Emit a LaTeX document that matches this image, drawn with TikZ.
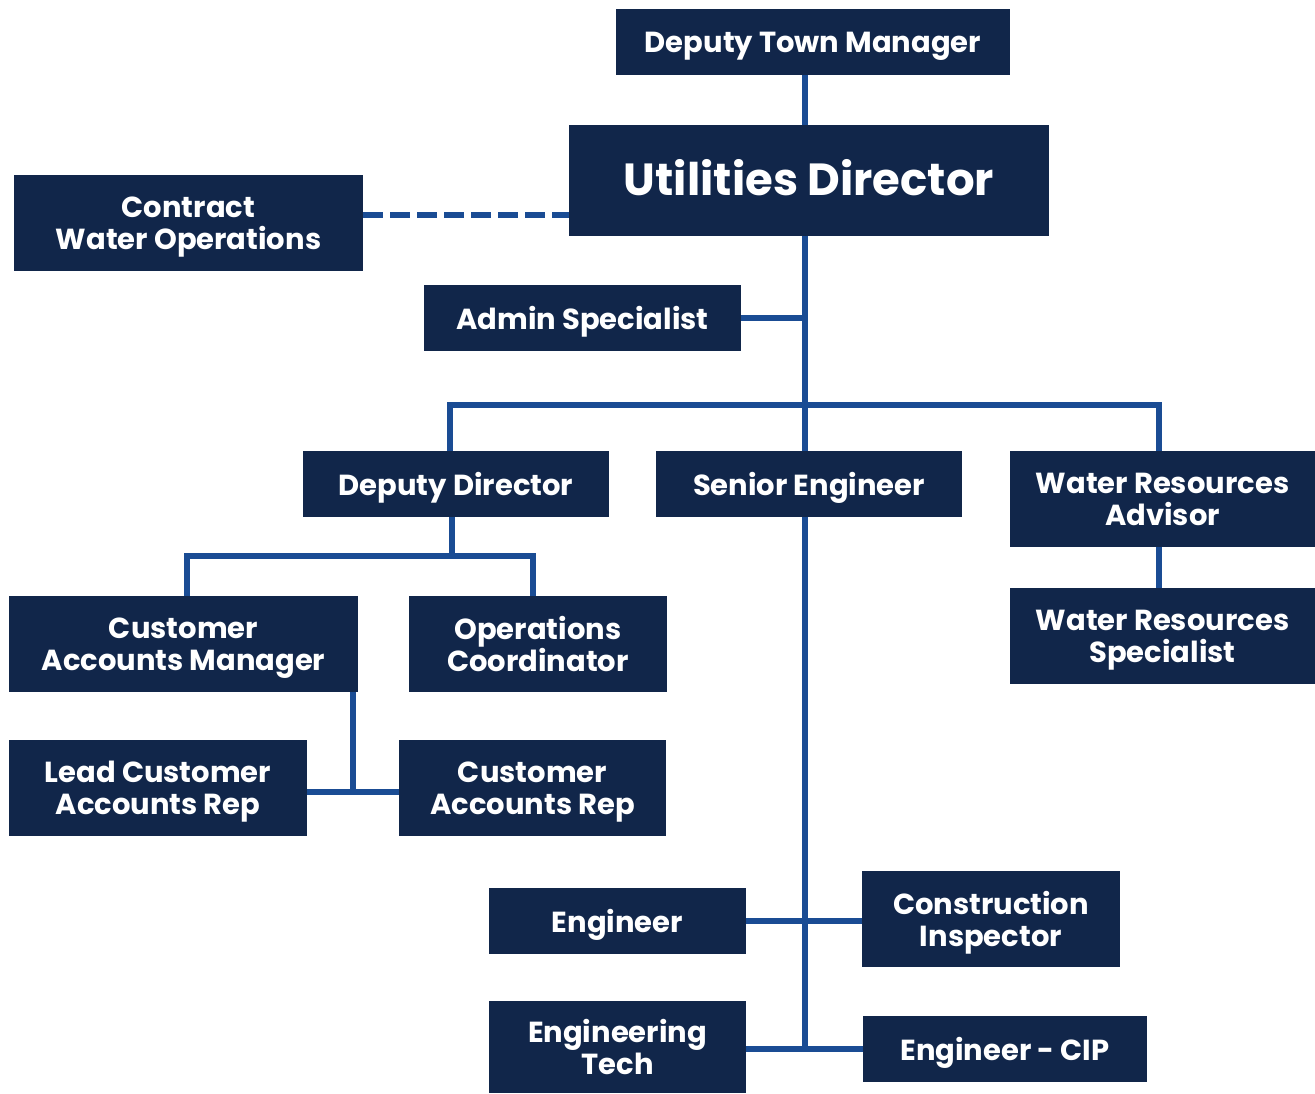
\documentclass[tikz,border=0pt]{standalone}
\usepackage{fontspec}
\setmainfont{Poppins}
\usepackage{xcolor}
\usepackage{tikz}

\definecolor{navy}{HTML}{11264A}
\definecolor{linkblue}{HTML}{1A4C94}

\begin{document}
\begin{tikzpicture}[x=1pt, y=-1pt,
	box/.style={draw=none, fill=navy, text=white, align=center, inner sep=0pt, text depth=0pt,
		font=\fontsize{29}{32}\selectfont\bfseries},
	link/.style={draw=linkblue, line width=6.5pt},
	dashlink/.style={link, dash pattern=on 20pt off 7pt}]
	\useasboundingbox (0,0) rectangle (1315,1093);
	
	\node[box, minimum width=394pt, minimum height=66pt] (DTM) at (813, 42) {Deputy Town Manager};
	\node[box, minimum width=480pt, minimum height=111pt, text depth=6pt, font=\fontsize{45}{50}\selectfont\bfseries] (UD) at (809, 180.5) {Utilities Director};
	\node[box, minimum width=349pt, minimum height=96pt] (CWO) at (188.5, 223) {Contract\\Water Operations};
	\node[box, minimum width=317pt, minimum height=66pt] (AS) at (582.5, 318) {Admin Specialist};
	
	\node[box, minimum width=306pt, minimum height=66pt] (DD) at (456, 484) {Deputy Director};
	\node[box, minimum width=306pt, minimum height=66pt] (SE) at (809, 484) {Senior Engineer};
	\node[box, minimum width=305pt, minimum height=96pt] (WRA) at (1162.5, 499) {Water Resources\\Advisor};
	\node[box, minimum width=305pt, minimum height=96pt] (WRS) at (1162.5, 636) {Water Resources\\Specialist};
	
	\node[box, minimum width=349pt, minimum height=96pt] (CAM) at (183.5, 644) {Customer\\Accounts Manager};
	\node[box, minimum width=258pt, minimum height=96pt] (OC) at (538, 644) {Operations\\Coordinator};
	\node[box, minimum width=298pt, minimum height=96pt] (LCAR) at (158, 788) {Lead Customer\\Accounts Rep};
	\node[box, minimum width=267pt, minimum height=96pt] (CAR) at (532.5, 788) {Customer\\Accounts Rep};
	
	\node[box, minimum width=257pt, minimum height=66pt] (ENG) at (617.5, 921) {Engineer};
	\node[box, minimum width=258pt, minimum height=96pt] (CI) at (991, 919) {Construction\\Inspector};
	\node[box, minimum width=257pt, minimum height=92pt] (ET) at (617.5, 1047) {Engineering\\Tech};
	\node[box, minimum width=284pt, minimum height=66pt] (CIP) at (1005, 1049) {Engineer - CIP};
	
	\coordinate (trunk) at (805, 0);
	\coordinate (bar) at (805, 405);
	\coordinate (ddbar) at (452, 556);
	\coordinate (repjoin) at (353, 792);
	
	% main line
	\draw[link] (DTM.south -| trunk) -- (UD.north -| trunk);
	\draw[link] (UD.south -| trunk) -- (SE.north -| trunk);
	\draw[link] (SE.south -| trunk) -- (CIP.west -| trunk);
	\draw[dashlink] ([yshift=8pt]CWO.east) -- ([yshift=8pt]CWO.east -| UD.west);
	\draw[link] (AS.east) -- (AS.east -| trunk);
	
	% second row
	\draw[link] ([xshift=-6pt]DD.north) |- (bar) -| ([xshift=-3.5pt]WRA.north);
	\draw[link] ([xshift=-3.5pt]WRA.south) -- ([xshift=-3.5pt]WRS.north);
	
	% deputy director
	\draw[link] (DD.south -| ddbar) -- (ddbar);
	\draw[link] ([xshift=3.5pt]CAM.north) |- (ddbar) -| ([xshift=-5pt]OC.north);
	\draw[link] (CAM.south -| repjoin) -- (repjoin);
	\draw[link] ([yshift=-4pt]LCAR.east) -- ([yshift=-4pt]CAR.west);
	
	% senior engineer
	\draw[link] (ENG.east) -- (ENG.east -| CI.west);
	\draw[link] (CIP.west) -- (CIP.west -| ET.east);
\end{tikzpicture}
\end{document}
